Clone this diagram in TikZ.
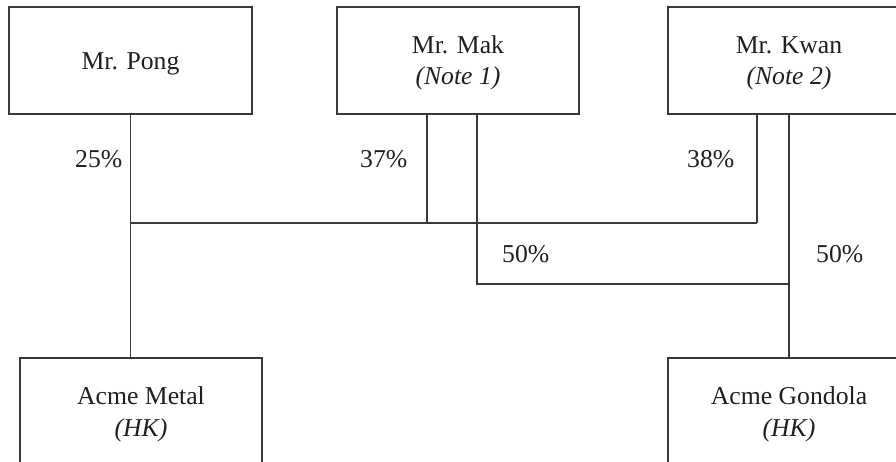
\documentclass[tikz,border=0pt]{standalone}
\usepackage{fontspec}
\setmainfont{Liberation Serif}
\begin{document}
\begin{tikzpicture}[x=1pt,y=-1pt,
  ln/.style={draw=black!78,line width=1.5pt},
  box/.style={ln,rectangle,inner sep=0pt,outer sep=0pt,minimum width=242pt,minimum height=107pt},
  txt/.style={inner sep=0pt,anchor=base,text=black!88,font=\fontsize{25.7}{31}\selectfont},
  pct/.style={txt,anchor=base west}]
\useasboundingbox (0,0) rectangle (896,462);
\begin{scope}
\clip (0,0) rectangle (896,462);
% boxes
\node[box,minimum width=243pt] (pong) at (130.5,60.5) {};
\node[box] (mak) at (458,60.5) {};
\node[box] (kwan) at (789,60.5) {};
\node[box] (metal) at (141,411.5) {};
\node[box] (gondola) at (789,411.5) {};
\end{scope}
% box texts
\node[txt] (pongT) at (130.5,70) {Mr. Pong};
\node[txt] (makT1) at (458,54) {Mr. Mak};
\node[txt] (makT2) at (458,85) {\itshape (Note 1)};
\node[txt] (kwanT1) at (789,54) {Mr. Kwan};
\node[txt] (kwanT2) at (789,85) {\itshape (Note 2)};
\node[txt] (metalT1) at (141,404) {Acme Metal};
\node[txt] (metalT2) at (141,436) {\itshape (HK)};
\node[txt] (gondolaT1) at (789,404) {Acme Gondola};
\node[txt] (gondolaT2) at (789,436) {\itshape (HK)};
% connector points
\coordinate (makA) at (427,114);
\coordinate (makB) at (477,114);
\coordinate (kwanA) at (757,114);
\coordinate (bus1) at (0,223);
\coordinate (bus2) at (0,284);
% connectors
\draw[ln] (pong.south) -- (pong.south |- metal.north);
\draw[ln] (makA) -- (makA |- bus1);
\draw[ln] (kwanA) -- (kwanA |- bus1);
\draw[ln] (pong.south |- bus1) -- (kwanA |- bus1);
\draw[ln] (makB) -- (makB |- bus2) -- (kwan.south |- bus2);
\draw[ln] (kwan.south) -- (gondola.north);
% percentages
\node[pct] (p25) at (75,168) {25\%};
\node[pct] (p37) at (360,168) {37\%};
\node[pct] (p38) at (687,168) {38\%};
\node[pct] (p50a) at (502,262) {50\%};
\node[pct] (p50b) at (816,262) {50\%};
\end{tikzpicture}
\end{document}
